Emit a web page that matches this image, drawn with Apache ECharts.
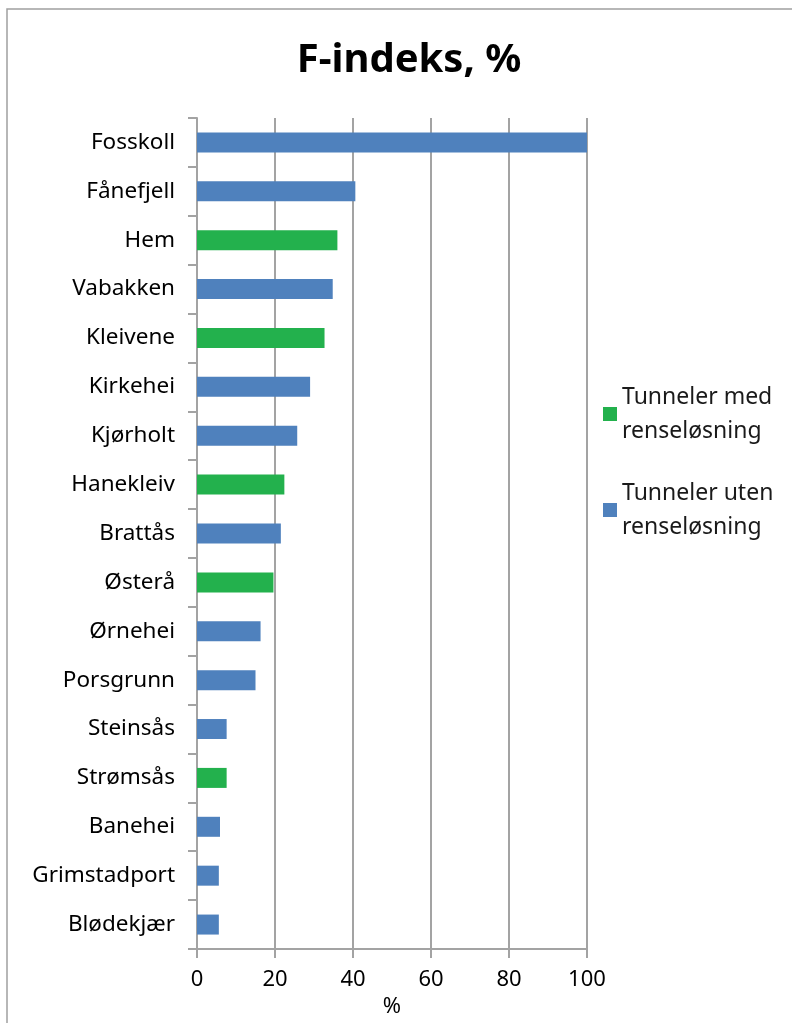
<!DOCTYPE html>
<html>
<head>
<meta charset="utf-8">
<script src="https://cdn.jsdelivr.net/npm/echarts@6/dist/echarts.min.js"></script>
<style>
  html, body { margin: 0; padding: 0; background: #fff; }
  #chart { width: 792px; height: 1023px; }
</style>
</head>
<body>
<div id="chart"></div>
<script>
var tunnels = ['Fosskoll', 'Fånefjell', 'Hem', 'Vabakken', 'Kleivene', 'Kirkehei', 'Kjørholt', 'Hanekleiv',
    'Brattås', 'Østerå', 'Ørnehei', 'Porsgrunn', 'Steinsås', 'Strømsås', 'Banehei', 'Grimstadport', 'Blødekjær'];
var fIndex = [100, 40.6, 36.0, 34.8, 32.7, 29.0, 25.7, 22.4, 21.5, 19.6, 16.3, 15.0, 7.6, 7.6, 5.9, 5.6, 5.6];
// true = tunnel med renseløsning
var hasCleaning = [false, false, true, false, true, false, false, true, false, true, false, false, false, true, false, false, false];
var xTicks = [0, 20, 40, 60, 80, 100];

var medData = fIndex.map(function(v, i) { return hasCleaning[i] ? v : '-'; });
var utenData = fIndex.map(function(v, i) { return hasCleaning[i] ? '-' : v; });

var font = 'Noto Sans';
var gray = '#a3a3a3';

var myChart = echarts.init(document.getElementById('chart'));

var option = {
    animation: false,
    title: {
        text: 'F-indeks, %',
        left: 404,
        textAlign: 'center',
        top: 36,
        textStyle: { fontFamily: font, fontSize: 40, fontWeight: 'bold', color: '#000' }
    },
    graphic: [{
        type: 'rect',
        shape: { x: 7, y: 9, width: 900, height: 1100 },
        style: { fill: 'none', stroke: '#a0a0a0', lineWidth: 1.5 },
        silent: true
    }],
    legend: {
        orient: 'vertical',
        left: 598,
        top: 375,
        itemWidth: 14,
        itemHeight: 14,
        itemGap: 28,
        icon: 'rect',
        data: ['Tunneler med\nrenseløsning', 'Tunneler uten\nrenseløsning'],
        textStyle: { fontFamily: font, fontSize: 23, color: '#1a1a1a', lineHeight: 34 }
    },
    grid: { left: 197, right: 205, top: 118, bottom: 74 },
    xAxis: {
        type: 'value',
        min: xTicks[0],
        max: xTicks[xTicks.length - 1],
        interval: 20,
        name: '%',
        nameLocation: 'middle',
        nameGap: 46,
        nameTextStyle: { fontFamily: font, fontSize: 22, color: '#000' },
        axisLine: { show: true, lineStyle: { color: gray, width: 2 } },
        axisTick: { show: true, length: 9, lineStyle: { color: gray, width: 2 } },
        axisLabel: { fontFamily: font, fontSize: 22, color: '#000', margin: 20 },
        splitLine: { show: true, lineStyle: { color: gray, width: 2 } }
    },
    yAxis: {
        type: 'category',
        inverse: true,
        data: tunnels,
        axisLine: { show: true, lineStyle: { color: gray, width: 2 } },
        axisTick: { show: true, length: 9, lineStyle: { color: gray, width: 2 } },
        axisLabel: { fontFamily: font, fontSize: 22.5, color: '#000', margin: 22 }
    },
    series: [{
        name: 'Tunneler med\nrenseløsning',
        type: 'bar',
        data: medData,
        barWidth: 20,
        barGap: '-100%',
        itemStyle: { color: '#23b14d' }
    }, {
        name: 'Tunneler uten\nrenseløsning',
        type: 'bar',
        data: utenData,
        barWidth: 20,
        barGap: '-100%',
        itemStyle: { color: '#4f81bd' }
    }]
};

myChart.setOption(option);
</script>
</body>
</html>
